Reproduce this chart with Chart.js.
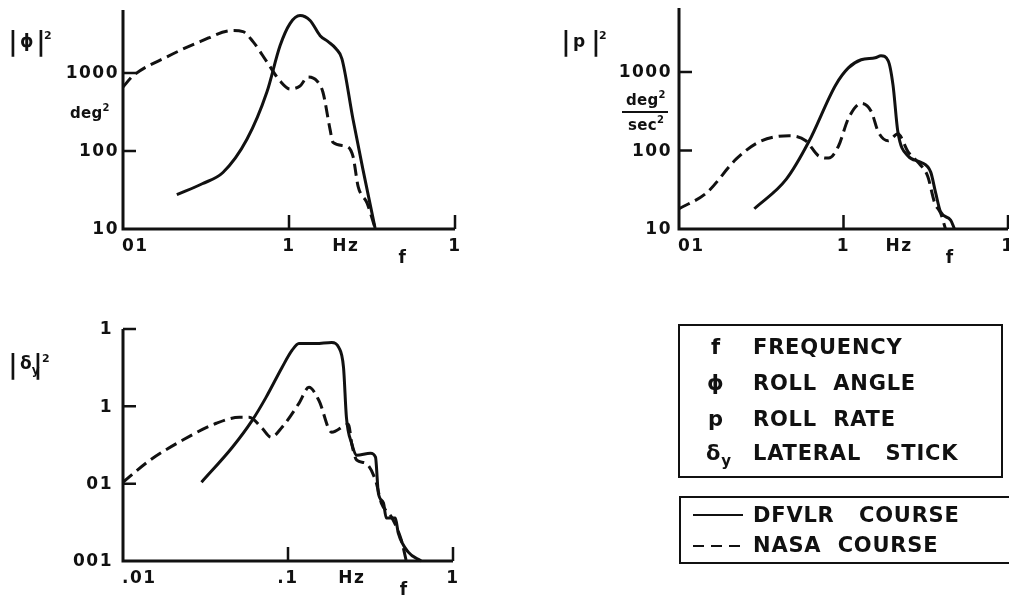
<!DOCTYPE html>
<html><head><meta charset="utf-8">
<script src="https://cdn.jsdelivr.net/npm/chart.js@4/dist/chart.umd.min.js"></script>
<style>
html,body{margin:0;padding:0;background:#fff;width:1009px;height:596px;overflow:hidden;position:relative;font-family:"DejaVu Sans",sans-serif;font-weight:bold;color:#111;}
canvas{position:absolute;left:0;top:0;}
.abs{position:absolute;white-space:nowrap;line-height:1;}
.bar{position:absolute;font-weight:bold;line-height:1;font-size:27px;transform:scaleX(0.9);}
.box{position:absolute;border:2.5px solid #111;box-sizing:border-box;}
.lg{position:absolute;font-size:21px;letter-spacing:0.8px;line-height:1;}
.unit{position:absolute;white-space:nowrap;line-height:1;font-size:15px;letter-spacing:0.3px;}
.unit span{font-size:10px;position:relative;top:-7px;}
</style></head><body>
<canvas id="cPhi" width="1009" height="596"></canvas>
<canvas id="cRate" width="1009" height="596"></canvas>
<canvas id="cStick" width="1009" height="596"></canvas>

<!-- axis titles -->
<div class="abs" style="left:0;top:0;">
  <span class="bar" style="left:8px;top:27px;">|</span>
  <span class="abs" style="left:20px;top:33px;font-size:17px;">ϕ</span>
  <span class="bar" style="left:36px;top:27px;">|</span>
  <span class="abs" style="left:44px;top:30px;font-size:11px;">2</span>
</div>
<div class="unit" style="left:70px;top:106px;">deg<span>2</span></div>

<div class="abs" style="left:0;top:0;">
  <span class="bar" style="left:561px;top:27px;">|</span>
  <span class="abs" style="left:573px;top:33px;font-size:17px;">p</span>
  <span class="bar" style="left:591px;top:27px;">|</span>
  <span class="abs" style="left:599px;top:30px;font-size:11px;">2</span>
</div>
<div class="unit" style="left:626px;top:93px;">deg<span>2</span></div>
<div class="abs" style="left:622px;top:111px;width:46px;height:0;border-top:2px solid #111;"></div>
<div class="unit" style="left:628px;top:118px;">sec<span>2</span></div>

<div class="abs" style="left:0;top:0;">
  <span class="bar" style="left:8px;top:350px;">|</span>
  <span class="abs" style="left:20px;top:355px;font-size:17px;">δ<span style="font-size:12px;position:relative;top:5px;">y</span></span>
  <span class="bar" style="left:33px;top:350px;">|</span>
  <span class="abs" style="left:42px;top:353px;font-size:11px;">2</span>
</div>

<!-- legend boxes -->
<div class="box" style="left:678px;top:324px;width:325px;height:154px;"></div>
<div class="lg" style="left:711px;top:337px;">f</div>
<div class="lg" style="left:753px;top:337px;">FREQUENCY</div>
<div class="lg" style="left:707px;top:373px;">ϕ</div>
<div class="lg" style="left:753px;top:373px;">ROLL&nbsp; ANGLE</div>
<div class="lg" style="left:708px;top:409px;">p</div>
<div class="lg" style="left:753px;top:409px;">ROLL&nbsp; RATE</div>
<div class="lg" style="left:706px;top:443px;">δ<span style="font-size:15px;position:relative;top:6px;">y</span></div>
<div class="lg" style="left:753px;top:443px;">LATERAL&nbsp;&nbsp; STICK</div>

<div class="box" style="left:679px;top:496px;width:332px;height:68px;"></div>
<div class="abs" style="left:693px;top:514px;width:50px;border-top:2.5px solid #111;"></div>
<div class="lg" style="left:753px;top:505px;">DFVLR&nbsp;&nbsp; COURSE</div>
<div class="abs" style="left:693px;top:545px;width:11px;border-top:2.5px solid #111;"></div>
<div class="abs" style="left:711px;top:545px;width:11px;border-top:2.5px solid #111;"></div>
<div class="abs" style="left:729px;top:545px;width:11px;border-top:2.5px solid #111;"></div>
<div class="lg" style="left:753px;top:535px;">NASA&nbsp; COURSE</div>

<script>
// ---------------- data ----------------
// Roll angle |phi|^2 (deg^2) vs frequency (Hz)
const phiDfvlrF = [0.0211,0.030,0.040,0.0558,0.0736,0.0883,0.1014,0.1165,0.134,0.154,0.172,0.192,0.2084,0.243,0.279,0.330];
const phiDfvlrV = [27.5,38,53,141,569,2230,4290,5430,4690,3000,2514,2040,1517,255,57.7,10.3];
const phiNasaF  = [0.01,0.01148,0.0184,0.0291,0.046,0.0528,0.0607,0.0736,0.0883,0.1014,0.1165,0.130,0.1475,0.160,0.1767,0.184,0.2236,0.243,0.261,0.295,0.330];
const phiNasaV  = [660,915,1607,2514,3485,3380,2514,1387,789,622,680,887,789,569,189,129,114,85,35,21.6,10.3];

// Roll rate |p|^2 (deg^2/sec^2)
const rateDfvlrF = [0.0287,0.0448,0.0615,0.0895,0.107,0.128,0.156,0.169,0.187,0.200,0.214,0.247,0.295,0.339,0.363,0.389,0.448,0.473];
const rateDfvlrV = [18.1,42.8,129,680,1128,1430,1517,1608,1387,680,173,85,71,53,29,16.6,13,10];
const rateNasaF  = [0.01,0.01475,0.0223,0.0308,0.0467,0.059,0.0707,0.0812,0.0933,0.107,0.128,0.1475,0.1626,0.187,0.214,0.247,0.283,0.325,0.358,0.389,0.417];
const rateNasaV  = [18.1,29,78,129,154,133,85,80,114,255,398,314,173,133,163,96,71,47,21.6,16,10];

// Lateral stick |delta_y|^2
const stickDfvlrF = [0.0299,0.046,0.0607,0.0736,0.092,0.1057,0.1165,0.1475,0.184,0.203,0.217,0.226,0.243,0.261,0.316,0.339,0.353,0.379,0.394,0.447,0.466,0.536,0.641];
const stickDfvlrV = [0.01045,0.0296,0.0659,0.1306,0.318,0.528,0.650,0.650,0.67,0.577,0.318,0.072,0.0333,0.0233,0.0248,0.022,0.00753,0.0056,0.00359,0.00359,0.0023,0.0013,0.001];
const stickNasaF  = [0.01,0.01455,0.0229,0.0368,0.0507,0.0582,0.0697,0.079,0.092,0.1165,0.134,0.154,0.184,0.233,0.243,0.261,0.295,0.339,0.368,0.424,0.486,0.521];
const stickNasaV  = [0.01045,0.0201,0.0364,0.0604,0.0721,0.0721,0.052,0.0398,0.0536,0.1094,0.176,0.119,0.0462,0.0586,0.0333,0.0201,0.0184,0.0111,0.0056,0.0037,0.00187,0.001];

// tick values and labels (as printed on the scan)
const xTickValues      = [0.01, 0.1, 1];
const xTickLabelsTop   = ['01', '1', '1'];
const xTickLabelsStick = ['.01', '.1', '1'];
const yTickValuesPhi   = [1000, 100, 10];
const yTickLabelsPhi   = ['1000', '100', '10'];
const yTickValuesRate  = [1000, 100, 10];
const yTickLabelsRate  = ['1000', '100', '10'];
const yTickValuesStick = [1, 0.1, 0.01, 0.001];
const yTickLabelsStick = ['1', '1', '01', '001'];

// ---------------- drawing ----------------
const INK = '#111';
const axesPlugin = {
  id: 'sketchAxes',
  afterDraw(chart, args, o) {
    const ctx = chart.ctx, xs = chart.scales.x, ys = chart.scales.y, a = chart.chartArea;
    ctx.save();
    ctx.strokeStyle = INK; ctx.fillStyle = INK;
    ctx.lineWidth = 3;
    ctx.beginPath();
    ctx.moveTo(a.left, a.top); ctx.lineTo(a.left, a.bottom);
    ctx.moveTo(a.left - 1.5, a.bottom); ctx.lineTo(a.right, a.bottom);
    ctx.stroke();
    ctx.lineWidth = 2.5;
    ctx.beginPath();
    o.yVals.forEach((v, i) => {
      if (!o.yMark[i]) return;
      const y = ys.getPixelForValue(v);
      ctx.moveTo(a.left, y); ctx.lineTo(a.left + 13, y);
    });
    o.xVals.forEach((v, i) => {
      if (!o.xMark[i]) return;
      const x = xs.getPixelForValue(v);
      ctx.moveTo(x, a.bottom); ctx.lineTo(x, a.bottom - 14);
    });
    ctx.stroke();
    ctx.font = 'bold 17px "DejaVu Sans"';
    ctx.letterSpacing = '1.5px';
    ctx.textBaseline = 'middle';
    ctx.textAlign = 'right';
    o.yVals.forEach((v, i) => {
      ctx.fillText(o.yLabels[i], a.left - o.yGap, ys.getPixelForValue(v) + 1);
    });
    o.xVals.forEach((v, i) => {
      const x = xs.getPixelForValue(v);
      ctx.textAlign = i === 0 ? 'left' : 'center';
      ctx.fillText(o.xLabels[i], i === 0 ? x - 1 : x, a.bottom + 18);
    });
    ctx.textAlign = 'center';
    ctx.fillText('Hz', xs.getPixelForValue(o.hzAt), a.bottom + 18);
    ctx.font = 'bold 17px "DejaVu Sans"';
    ctx.letterSpacing = '0px';
    ctx.fillText('f', xs.getPixelForValue(o.fAt), a.bottom + 30);
    ctx.restore();
  }
};

function series(f, v) { return f.map((x, i) => ({ x: x, y: v[i] })); }

function makeChart(id, pad, yMin, yMax, dfF, dfV, naF, naV, axes) {
  return new Chart(document.getElementById(id), {
    type: 'line',
    data: { datasets: [
      { label: 'DFVLR COURSE', data: series(dfF, dfV), borderColor: INK, borderWidth: 3, clip: false },
      { label: 'NASA COURSE', data: series(naF, naV), borderColor: INK, borderWidth: 3, borderDash: [12, 6], clip: false }
    ]},
    options: {
      responsive: false, animation: false, events: [],
      layout: { padding: pad },
      plugins: { legend: { display: false }, tooltip: { enabled: false }, sketchAxes: axes },
      scales: {
        x: { type: 'logarithmic', min: 0.01, max: 1, display: false },
        y: { type: 'logarithmic', min: yMin, max: yMax, display: false }
      },
      elements: { point: { radius: 0 }, line: { cubicInterpolationMode: 'monotone', borderCapStyle: 'butt', borderJoinStyle: 'round' } }
    },
    plugins: [axesPlugin]
  });
}

makeChart('cPhi', { left: 123, top: 10, right: 554, bottom: 367 }, 10, 6400,
  phiDfvlrF, phiDfvlrV, phiNasaF, phiNasaV,
  { xVals: xTickValues, xLabels: xTickLabelsTop, xMark: [false, true, true],
    yVals: yTickValuesPhi, yLabels: yTickLabelsPhi, yMark: [true, true, false], yGap: 4,
    hzAt: 0.22, fAt: 0.48 });

makeChart('cRate', { left: 679, top: 8, right: 1, bottom: 367 }, 10, 6530,
  rateDfvlrF, rateDfvlrV, rateNasaF, rateNasaV,
  { xVals: xTickValues, xLabels: xTickLabelsTop, xMark: [false, true, true],
    yVals: yTickValuesRate, yLabels: yTickLabelsRate, yMark: [true, true, false], yGap: 7,
    hzAt: 0.218, fAt: 0.44 });

makeChart('cStick', { left: 123, top: 329, right: 556, bottom: 35 }, 0.001, 1,
  stickDfvlrF, stickDfvlrV, stickNasaF, stickNasaV,
  { xVals: xTickValues, xLabels: xTickLabelsStick, xMark: [false, true, true],
    yVals: yTickValuesStick, yLabels: yTickLabelsStick, yMark: [true, true, true, false], yGap: 10,
    hzAt: 0.244, fAt: 0.50 });
</script>
</body></html>
